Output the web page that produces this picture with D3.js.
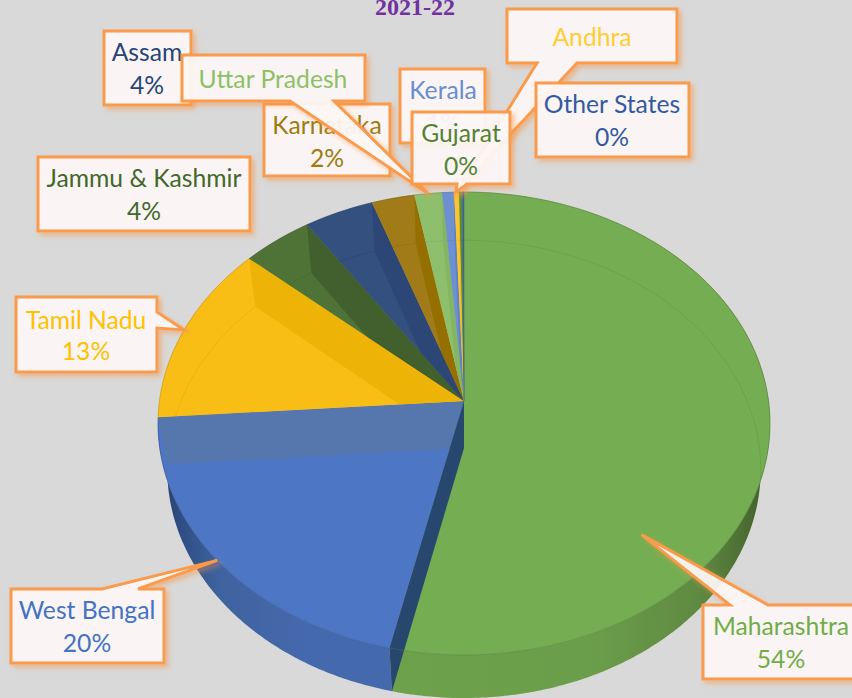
<!DOCTYPE html>
<html>
<head>
<meta charset="utf-8">
<script src="https://cdn.jsdelivr.net/npm/d3@7"></script>
<style>
  html, body { margin: 0; padding: 0; background: #d9d9d9; }
  svg { display: block; }
</style>
</head>
<body>
<div id="chart"></div>
<script>
// data
const states = ["Maharashtra", "West Bengal", "Tamil Nadu", "Jammu & Kashmir", "Assam", "Karnataka",
    "Uttar Pradesh", "Kerala", "Andhra", "Gujarat", "Other States"];
const shares = [53.5, 20.3, 12.6, 4.1, 4.05, 2.49, 1.61, 0.68, 0.29, 0.2, 0.08];
const shareLabels = ["54%", "20%", "13%", "4%", "4%", "2%", null, "1%", null, "0%", "0%"];
const title = "2021-22";

// colours
const faceColors = ["#75ad52", "#4d77c4", "#f9be15", "#4f7337", "#34507f", "#a07b18",
    "#8ebf6c", "#6d90d0", "#fdc42b", "#5a8a3c", "#3b5fa0"];
const wallColors = ["#27476f", "#5676ae", "#edb407", "#42602d", "#2c4675", "#957000",
    "#84b560", "#5f82c2", "#efb820", "#4d7a32", "#335594"];
const labelColors = ["#70ad47", "#4472c4", "#ffc000", "#43682b", "#264478", "#9e7b0f",
    "#8cc168", "#698ed0", "#ffcd33", "#548235", "#335aa1"];

// callout boxes, same order as states. side/base only when the box has a leader
const boxes = [
    { x0: 703, y0: 605, x1: 856, y1: 679, side: "top", base: [730, 768], tipAngle: 135, tipRadius: 0.78, textX: 781 },
    { x0: 11, y0: 589, x1: 164, y1: 663, side: "top", base: [102, 138], textX: 87 },
    { x0: 16, y0: 297, x1: 157, y1: 372, side: "right", base: [312, 328], textX: 86, textDy: 32 },
    { x0: 38, y0: 157, x1: 250, y1: 231, textX: 144 },
    { x0: 104, y0: 31, x1: 191, y1: 105, textX: 147 },
    { x0: 264, y0: 104, x1: 390, y1: 176, textX: 327 },
    { x0: 182, y0: 55, x1: 365, y1: 101, side: "bottom", base: [290, 334], textX: 273, textDy: 33 },
    { x0: 400, y0: 69, x1: 485, y1: 143, textX: 443 },
    { x0: 507, y0: 9, x1: 677, y1: 63, side: "bottom", base: [537, 577], textX: 592, textDy: 37 },
    { x0: 412, y0: 112, x1: 510, y1: 184, side: "bottom", base: [457, 467], tipAngle: 358.3, tipRadius: 1, textX: 461 },
    { x0: 536, y0: 83, x1: 689, y1: 157, textX: 612 }
];

const width = 852;
const height = 698;

// pie geometry, a circle seen in perspective
const centerX = 464;
const radiusX = 304.5;
const persp = 0.0972;       // perspective factor
const backSlope = -190.3;
const centerY = 401;
const depth = 47;           // how far the lower disc sits under the top one
const depthTilt = 4.5;      // the drop grows toward the viewer
const lowerScale = 0.97;

function project(angle, r) {
    const u = r * Math.cos(angle);
    const v = r * Math.sin(angle);
    const w = 1 + persp * u;
    return [centerX + radiusX * v / w, (backSlope * u + centerY) / w];
}

function projectLower(angle, r) {
    const p = project(angle, r * lowerScale);
    return [p[0], p[1] + depth - depthTilt * r * Math.cos(angle)];
}

function arcPoints(fn, a, b) {
    const n = Math.max(2, Math.ceil(Math.abs(b - a) / 0.01));
    return d3.range(n + 1).map(i => fn(a + (b - a) * i / n, 1));
}

const line = d3.line();
const closed = pts => line(pts) + "Z";

const slices = d3.pie().sort(null).value(d => d)(shares);

const svg = d3.select("#chart").append("svg")
    .attr("width", width)
    .attr("height", height);

const defs = svg.append("defs");

// orange shadow, kept outside the shape so it does not tint the see-through fill
const glow = defs.append("filter").attr("id", "boxShadow")
    .attr("x", "-20%").attr("y", "-20%").attr("width", "140%").attr("height", "140%");
glow.append("feGaussianBlur").attr("in", "SourceAlpha").attr("stdDeviation", 2.5).attr("result", "blur");
glow.append("feOffset").attr("in", "blur").attr("dx", 3).attr("dy", 3).attr("result", "moved");
glow.append("feFlood").attr("flood-color", "#f79646").attr("flood-opacity", 0.55).attr("result", "tint");
glow.append("feComposite").attr("in", "tint").attr("in2", "moved").attr("operator", "in").attr("result", "shadow");
glow.append("feComposite").attr("in", "shadow").attr("in2", "SourceAlpha").attr("operator", "out").attr("result", "outer");
const merged = glow.append("feMerge");
merged.append("feMergeNode").attr("in", "outer");
merged.append("feMergeNode").attr("in", "SourceGraphic");

function addGradient(id, stops) {
    const g = defs.append("linearGradient").attr("id", id)
        .attr("gradientUnits", "userSpaceOnUse")
        .attr("x1", 158).attr("x2", 772).attr("y1", 0).attr("y2", 0);
    stops.forEach(s => g.append("stop").attr("offset", s[0]).attr("stop-color", s[1]));
}
addGradient("greenWall", [[0, "#6fa54d"], [0.7, "#6b9e4a"], [0.88, "#5f8a42"], [0.95, "#4d7034"], [1, "#3f5c28"]]);
addGradient("blueWall", [[0, "#263f6e"], [0.04, "#2f4f85"], [0.1, "#3f639f"], [0.25, "#4569ad"], [1, "#4569ad"]]);

slices.forEach((d, i) => {
    defs.append("clipPath").attr("id", "sector" + i)
        .append("path")
        .attr("d", closed([project(0, 0)].concat(arcPoints(project, d.startAngle, d.endAngle))));
});

// outer walls of the two front slices
const pieG = svg.append("g");
[["greenWall", slices[0]], ["blueWall", slices[1]]].forEach(([id, d]) => {
    const top = arcPoints(project, d.startAngle, d.endAngle);
    const low = arcPoints(projectLower, d.startAngle, d.endAngle).reverse();
    pieG.append("path")
        .attr("d", closed(top.concat(low)))
        .attr("fill", "url(#" + id + ")");
});

// top faces
pieG.selectAll("path.face")
    .data(slices)
    .enter()
    .append("path")
    .attr("class", "face")
    .attr("d", d => closed([project(0, 0)].concat(arcPoints(project, d.startAngle, d.endAngle))))
    .attr("fill", (d, i) => faceColors[i])
    .attr("stroke", (d, i) => faceColors[i])
    .attr("stroke-width", 0.5);

// inner walls, cut by the slice's own sector
function wallPoints(d) {
    return [project(d.endAngle, 1), projectLower(d.endAngle, 1), projectLower(0, 0), project(0, 0)];
}

slices.forEach((d, i) => {
    if (i === 0) return;
    const g = pieG.append("g").attr("clip-path", "url(#sector" + i + ")");
    g.append("path")
        .attr("d", closed(wallPoints(d)))
        .attr("fill", wallColors[i]);
});

// the dark wall between green and blue is not cut
pieG.append("path")
    .attr("d", closed(wallPoints(slices[0])))
    .attr("fill", wallColors[0]);

// faint rim of the lower disc seen through the back slices
slices.forEach((d, i) => {
    if (i === 1) return;
    pieG.append("path")
        .attr("clip-path", "url(#sector" + i + ")")
        .attr("d", line(arcPoints(projectLower, d.startAngle, d.endAngle)))
        .attr("fill", "none")
        .attr("stroke", d3.color(faceColors[i]).darker(0.8))
        .attr("stroke-opacity", 0.3)
        .attr("stroke-width", 0.8);
});

// rim of the top disc
slices.forEach((d, i) => {
    pieG.append("path")
        .attr("d", line(arcPoints(project, d.startAngle, d.endAngle)))
        .attr("fill", "none")
        .attr("stroke", d3.color(faceColors[i]).darker(1))
        .attr("stroke-opacity", 0.6)
        .attr("stroke-width", 0.8);
});

// title
svg.append("text")
    .attr("x", 415)
    .attr("y", 15)
    .attr("text-anchor", "middle")
    .style("font-family", "'Liberation Serif', serif")
    .style("font-weight", "bold")
    .style("font-size", "24px")
    .style("fill", "#7030a0")
    .text(title);

// callouts
function calloutPath(b, tip) {
    const pts = [[b.x0, b.y0]];
    if (b.side === "top") pts.push([b.base[0], b.y0], tip, [b.base[1], b.y0]);
    pts.push([b.x1, b.y0]);
    if (b.side === "right") pts.push([b.x1, b.base[0]], tip, [b.x1, b.base[1]]);
    pts.push([b.x1, b.y1]);
    if (b.side === "bottom") pts.push([b.base[1], b.y1], tip, [b.base[0], b.y1]);
    pts.push([b.x0, b.y1]);
    return closed(pts);
}

const labels = svg.selectAll("g.callout")
    .data(slices)
    .enter()
    .append("g")
    .attr("class", "callout");

labels.each(function(d, i) {
    const b = boxes[i];
    const g = d3.select(this);
    const mid = (d.startAngle + d.endAngle) / 2;
    const tip = b.tipAngle
        ? project(b.tipAngle * Math.PI / 180, b.tipRadius)
        : project(mid, 1);

    g.append("path")
        .attr("d", calloutPath(b, tip))
        .attr("fill", "#fcf7f5")
        .attr("fill-opacity", 0.94)
        .attr("stroke", "#fa9a4c")
        .attr("stroke-width", 3)
        .attr("filter", "url(#boxShadow)");

    const text = g.append("text")
        .attr("text-anchor", "middle")
        .style("font-family", "Lato, sans-serif")
        .style("font-size", "24.7px")
        .style("fill", labelColors[i]);

    text.append("tspan")
        .attr("x", b.textX)
        .attr("y", b.y0 + (b.textDy || 30))
        .text(states[i]);

    if (shareLabels[i]) {
        text.append("tspan")
            .attr("x", b.textX)
            .attr("y", b.y0 + 63)
            .text(shareLabels[i]);
    }
});
</script>
</body>
</html>
